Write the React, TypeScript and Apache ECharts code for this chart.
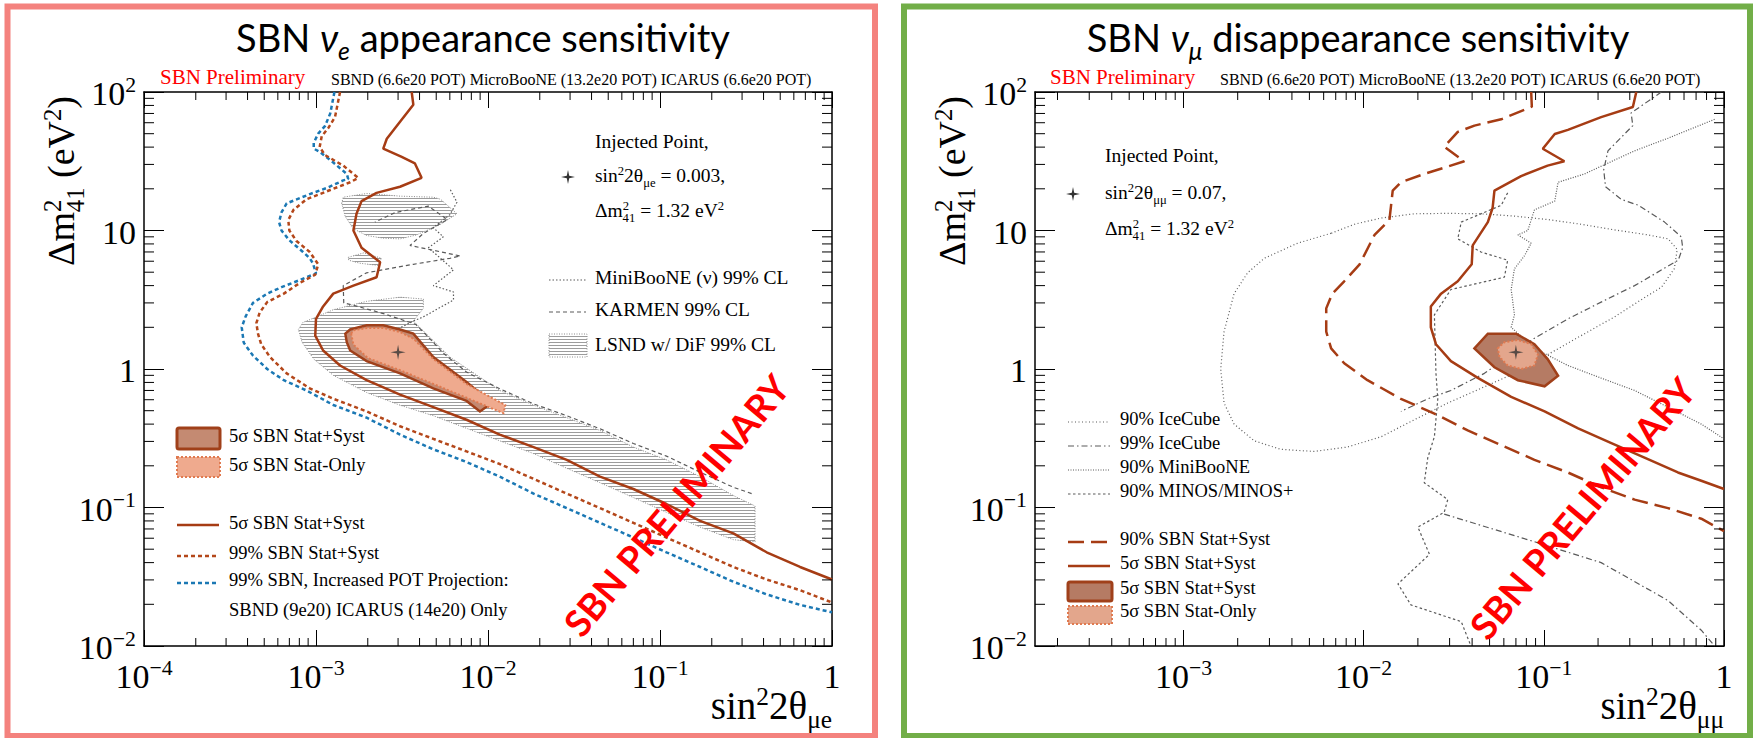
import React, { useEffect, useRef } from 'react';
import * as echarts from 'echarts';

// ================= LEFT PANEL: nu_e appearance =================
const injectedE: number[][] = [[0.003, 1.32]];

const proj99E: number[][] = [[1.28e-3,100],[1.21e-3,70],[1.13e-3,57],[1.03e-3,50],[9.7e-4,43],[9.7e-4,39],[1.05e-3,37],[1.26e-3,31],[1.51e-3,25.6],[1.54e-3,23.5],[1.44e-3,23],[1.18e-3,20.5],[9.2e-4,18.3],[6.75e-4,15.7],[6.3e-4,13.5],[6.1e-4,11.5],[6.3e-4,10],[7.0e-4,8.5],[8.4e-4,7.0],[9.2e-4,6.3],[9.6e-4,5.8],[1.0e-3,4.9],[8.1e-4,4.4],[6.3e-4,3.9],[5.2e-4,3.5],[4.3e-4,3.0],[3.9e-4,2.4],[3.7e-4,2.0],[3.8e-4,1.55],[4.3e-4,1.25],[5.2e-4,1.0],[6.5e-4,0.83],[8.8e-4,0.7],[1.26e-3,0.55],[1.97e-3,0.445],[3.08e-3,0.336],[4.81e-3,0.263],[7.5e-3,0.213],[0.0117,0.167],[0.0184,0.126],[0.0287,0.099],[0.0448,0.0775],[0.07,0.0607],[0.109,0.0475],[0.171,0.0372],[0.267,0.0291],[0.417,0.0236],[0.652,0.0198],[1,0.0175]];

const sbn99E: number[][] = [[1.38e-3,100],[1.29e-3,66],[1.18e-3,55],[1.08e-3,48],[1.05e-3,40],[1.13e-3,35],[1.44e-3,29.4],[1.76e-3,24],[1.58e-3,22.3],[1.26e-3,20],[8.8e-4,16.8],[7.4e-4,14.1],[6.9e-4,11.9],[7.0e-4,10],[7.7e-4,8.4],[9.2e-4,7.0],[1.03e-3,5.7],[9.9e-4,4.8],[8.1e-4,4.2],[6.5e-4,3.5],[5.2e-4,3.04],[4.7e-4,2.55],[4.5e-4,2.14],[4.6e-4,1.8],[4.8e-4,1.51],[5.4e-4,1.22],[6.75e-4,0.93],[9.2e-4,0.725],[1.26e-3,0.61],[1.97e-3,0.494],[3.08e-3,0.386],[4.81e-3,0.313],[7.5e-3,0.254],[0.0117,0.206],[0.0184,0.161],[0.0287,0.126],[0.0448,0.099],[0.07,0.0775],[0.109,0.0607],[0.171,0.0475],[0.267,0.0372],[0.417,0.0302],[0.652,0.0253],[1,0.0206]];

const sbn5sigE: number[][] = [[3.6e-3,100],[3.68e-3,81],[3.08e-3,61],[2.58e-3,46],[2.46e-3,39],[3.15e-3,34],[3.76e-3,30.5],[4.11e-3,24],[3.08e-3,20.7],[2.25e-3,18.7],[1.84e-3,16.3],[1.72e-3,13.2],[1.65e-3,10],[1.84e-3,7.5],[2.36e-3,5.9],[2.25e-3,4.6],[1.65e-3,4.0],[1.26e-3,3.5],[1.1e-3,2.83],[1.0e-3,2.3],[9.9e-4,1.74],[1.1e-3,1.36],[1.38e-3,1.06],[1.97e-3,0.83],[3.08e-3,0.653],[4.81e-3,0.53],[7.5e-3,0.43],[0.0117,0.336],[0.0184,0.273],[0.0287,0.221],[0.0448,0.167],[0.07,0.136],[0.109,0.106],[0.171,0.08],[0.267,0.065],[0.417,0.0475],[0.652,0.0372],[1,0.0302]];

const blobSystE: number[][] = [[1.48e-3,1.8],[1.51e-3,1.56],[1.58e-3,1.36],[1.97e-3,1.14],[3.08e-3,0.93],[4.81e-3,0.725],[7.5e-3,0.588],[8.98e-3,0.494],[0.0105,0.568],[7.5e-3,0.805],[4.81e-3,1.22],[3.68e-3,1.8],[3.08e-3,1.93],[2.46e-3,2.07],[1.97e-3,2.07],[1.58e-3,1.93]];

const blobStatE: number[][] = [[1.6e-3,1.8],[1.65e-3,1.5],[2.0e-3,1.2],[3.08e-3,0.98],[4.81e-3,0.78],[7.5e-3,0.62],[0.0105,0.52],[0.0123,0.48],[0.0126,0.55],[0.0105,0.62],[7.5e-3,0.78],[4.81e-3,1.18],[3.7e-3,1.65],[3.08e-3,1.85],[2.46e-3,1.98],[1.97e-3,1.98],[1.65e-3,1.9]];

const lsndBand: number[][] = [[7.9e-4,1.93],[8.4e-4,2.17],[1.01e-3,2.38],[1.26e-3,2.68],[1.97e-3,3.08],[3.08e-3,3.3],[4.21e-3,3.2],[4.21e-3,2.74],[3.68e-3,2.22],[6.0e-3,1.22],[0.0117,0.70],[0.0184,0.548],[0.0287,0.445],[0.0448,0.36],[0.07,0.273],[0.109,0.221],[0.171,0.167],[0.267,0.122],[0.357,0.1025],[0.357,0.0566],[0.267,0.0586],[0.171,0.0722],[0.109,0.0923],[0.07,0.118],[0.0448,0.151],[0.0287,0.192],[0.0184,0.245],[0.0117,0.303],[7.5e-3,0.373],[4.81e-3,0.46],[3.08e-3,0.548],[1.97e-3,0.676],[1.26e-3,0.9],[9.7e-4,1.18],[8.3e-4,1.56]];

const lsndUpper: number[][] = [[1.41e-3,15.7],[1.44e-3,17.4],[1.97e-3,18.5],[3.08e-3,17.7],[4.81e-3,17.4],[5.3e-3,16.8],[6.6e-3,13.2],[5.3e-3,11.1],[3.85e-3,9.3],[3.08e-3,8.7],[2.46e-3,8.8],[1.97e-3,9.2],[1.65e-3,10.3],[1.48e-3,12.6]];

const lsndSmall: number[][] = [[1.54e-3,6.4],[1.9e-3,6.9],[2.4e-3,6.3],[2.3e-3,5.6],[1.8e-3,5.8],[1.55e-3,6.1]];

const karmenE: number[][] = [[0.341,0.126],[0.267,0.14],[0.171,0.18],[0.109,0.235],[0.07,0.29],[0.0448,0.37],[0.0287,0.46],[0.0184,0.56],[0.0117,0.72],[7.5e-3,0.95],[5.5e-3,1.3],[4.5e-3,1.7],[3.8e-3,2.1],[2.5e-3,2.5],[1.8e-3,2.8],[1.45e-3,3.0],[1.44e-3,4.0],[1.97e-3,4.95],[3.68e-3,5.7],[6.0e-3,6.3],[6.9e-3,6.55],[3.52e-3,7.8],[4.2e-3,9.5],[5.8e-3,12],[4.5e-3,15],[2.9e-3,13.5],[2.2e-3,11.5]];

const minibooneE: number[][] = [[3.0e-3,1.95],[3.68e-3,2.22],[4.21e-3,2.38],[6.3e-3,3.15],[6.3e-3,3.6],[4.81e-3,4.0],[6.3e-3,5.2],[5.3e-3,6.3],[4.5e-3,7.5],[5.5e-3,9.0],[4.8e-3,10.5],[6.0e-3,13],[6.6e-3,16],[6.0e-3,20]];

// ================= RIGHT PANEL: nu_mu disappearance =================
const injectedMu: number[][] = [[0.07, 1.32]];

const sbn90Mu: number[][] = [[0.0851,100],[0.0858,78.3],[0.058,63.5],[0.0412,57.2],[0.0333,51.5],[0.028,40.3],[0.0362,31.6],[0.028,28.4],[0.0217,25.6],[0.0161,22.3],[0.0145,19.4],[0.0142,15.2],[0.0139,11.9],[0.0115,9.3],[9.5e-3,5.7],[7.8e-3,4.3],[6.7e-3,3.5],[6.2e-3,2.74],[6.2e-3,1.86],[6.6e-3,1.41],[7.8e-3,1.1],[0.0105,0.83],[0.0161,0.609],[0.0247,0.477],[0.0378,0.36],[0.058,0.282],[0.0887,0.221],[0.136,0.179],[0.208,0.14],[0.319,0.114],[0.489,0.099],[0.748,0.083],[1,0.0675]];

const sbn5sigMu: number[][] = [[0.326,100],[0.312,78],[0.208,65.8],[0.136,53.3],[0.115,49.8],[0.0987,38.9],[0.13,31.6],[0.105,29.4],[0.0748,24.7],[0.0532,19.4],[0.052,14.6],[0.0489,11.5],[0.0403,7.8],[0.0398,5.7],[0.0333,4.3],[0.0269,3.5],[0.0236,2.83],[0.0236,2.0],[0.0252,1.51],[0.0305,1.14],[0.043,0.863],[0.0659,0.63],[0.101,0.494],[0.155,0.373],[0.237,0.292],[0.362,0.229],[0.555,0.179],[0.748,0.156],[1,0.136]];

const blobSystMu: number[][] = [[0.0412,1.41],[0.0489,1.8],[0.0702,1.8],[0.0887,1.51],[0.105,1.18],[0.12,0.893],[0.101,0.75],[0.0718,0.83],[0.0532,1.03]];

const blobStatMu: number[][] = [[0.0555,1.41],[0.0604,1.56],[0.0718,1.62],[0.0851,1.51],[0.0927,1.27],[0.0887,1.06],[0.0748,1.0],[0.063,1.06],[0.0568,1.22]];

const icecube90: number[][] = [[6.6e-3,9.55],[4.3e-3,8.1],[2.81e-3,6.3],[2.27e-3,4.95],[1.91e-3,3.5],[1.68e-3,1.86],[1.61e-3,1.0],[1.68e-3,0.568],[1.91e-3,0.40],[2.47e-3,0.303],[3.47e-3,0.263],[5.3e-3,0.254],[8.1e-3,0.273],[0.0125,0.324],[0.0191,0.43],[0.0293,0.568],[0.0448,0.725],[0.0687,0.93],[0.105,1.27],[0.161,1.74],[0.247,2.38],[0.36,3.26],[0.45,3.9],[0.53,5.3],[0.55,7.3],[0.49,8.7],[0.378,9.3],[0.247,10.1],[0.161,11.1],[0.105,12.0],[0.0687,12.7],[0.0448,13.2],[0.0293,13.3],[0.0191,13.2],[0.0125,12.3],[8.9e-3,11.1],[6.6e-3,9.55]];

const icecube99: number[][] = [[0.449,100],[0.305,70.5],[0.312,57.2],[0.227,37.6],[0.215,27.5],[0.22,20.7],[0.269,16.8],[0.335,15.2],[0.468,11.5],[0.579,9.0],[0.59,7.5],[0.557,6.1],[0.319,4.0],[0.208,3.04],[0.136,2.3],[0.0887,1.67],[0.0687,1.31],[0.0468,0.93],[0.0305,0.70],[0.0227,0.609],[0.0161,0.494]];

const icecube99b: number[][] = [[0.028,0.0896],[0.0887,0.0566],[0.208,0.040],[0.489,0.0213],[0.748,0.013],[0.887,0.01]];

const minibooneMu: number[][] = [[0.887,63.5],[0.489,46.4],[0.319,37.6],[0.168,25.6],[0.12,22.3],[0.115,16.3],[0.0887,14.1],[0.0815,10],[0.0718,9.3],[0.0851,8.1],[0.078,6.55],[0.0687,5.3],[0.0659,3.75],[0.0687,2.46],[0.0659,2.0],[0.0887,1.41],[0.136,1.06],[0.208,0.86],[0.319,0.70],[0.489,0.53],[0.748,0.40],[1,0.313]];

const minosMu: number[][] = [[0.063,18.7],[0.058,15.2],[0.0348,11.5],[0.0333,8.7],[0.0448,7.0],[0.063,6.1],[0.0604,4.6],[0.0305,3.75],[0.0247,2.46],[0.0252,0.93],[0.0258,0.609],[0.0247,0.324],[0.0227,0.229],[0.0217,0.151],[0.0293,0.114],[0.028,0.0923],[0.02,0.0722],[0.0232,0.0459],[0.0155,0.0281],[0.0183,0.0198],[0.0348,0.015],[0.0394,0.01]];

// ================= axes =================
const xRangeE = [1e-4, 1];
const xRangeMu = [1.5e-4, 1];
const yRange = [1e-2, 100];
const minorMult = [2, 3, 4, 5, 6, 7, 8, 9];
const decadesX = [1e-4, 1e-3, 1e-2, 1e-1];
const decadesY = [1e-2, 1e-1, 1, 10];

const SERIF = "'Liberation Serif', 'Times New Roman', serif";
const SANS = "Lato, 'Open Sans', sans-serif";

const C_SOLID = '#A63C14';
const C_RDOT = '#B4471A';
const C_BLUE = '#1B78B4';
const C_GRAY = '#5a5a5a';
const C_SYST = '#C48A72';
const C_SYST_B = '#A0401A';
const C_STAT = '#EFAA8E';
const C_STAT_B = '#E07A50';
const STAR = 'path://M0,-10L1.6,-1.6L10,0L1.6,1.6L0,10L-1.6,1.6L-10,0L-1.6,-1.6Z';

function rs(f: number, p: number, family = SERIF, color = '#000') {
  const b: any = { fontFamily: family, color, fill: color, verticalAlign: 'top' };
  const s = f * 0.65;
  return {
    n: { ...b, fontSize: f, lineHeight: f * 1.2, padding: [p, 0, 0, 0] },
    i: { ...b, fontSize: f, lineHeight: f * 1.2, padding: [p, 0, 0, 0], fontStyle: 'italic' },
    sp: { ...b, fontSize: s, lineHeight: s * 1.2, padding: [Math.max(0, p - 0.06 * f), 0, 0, 0] },
    sb: { ...b, fontSize: s, lineHeight: s * 1.2, padding: [p + 0.54 * f, 0, 0, 0] },
    sbi: { ...b, fontSize: s, lineHeight: s * 1.2, padding: [p + 0.54 * f, 0, 0, 0], fontStyle: 'italic' },
    sbk: { ...b, fontSize: s, lineHeight: s * 1.2, padding: [p + 0.54 * f, 0, 0, -0.33 * f] },
  };
}

// text with baseline at B
function txt(x: number, B: number, text: string, f: number, opts: any = {}) {
  const family = opts.family || SERIF;
  const color = opts.color || '#000';
  const p = 0.35 * f;
  return {
    type: 'text', x, y: B - 1.28 * f, silent: true, z: opts.z || 50,
    style: { text, rich: rs(f, p, family, color), align: opts.align || 'left', verticalAlign: 'top', fill: color, fontSize: f, fontFamily: family },
  };
}

function expLabel(v: number) {
  const e = Math.round(Math.log10(v));
  if (e === 0) return '{b|1}';
  if (e === 1) return '{b|10}';
  return '{b|10}{s|' + (e < 0 ? '\u2212' + -e : String(e)) + '}';
}

function labelRich(f: number, p: number) {
  return {
    b: { fontFamily: SERIF, fontSize: f, lineHeight: f * 1.2, color: '#000', verticalAlign: 'top', padding: [p, 0, 0, 0] },
    s: { fontFamily: SERIF, fontSize: f * 0.64, lineHeight: f * 0.64 * 1.2, color: '#000', verticalAlign: 'top', padding: [Math.max(0, p - 0.08 * f), 0, 0, 0] },
  };
}

function xAx(gi: number, range: number[], pos: string, showLabel: boolean) {
  return {
    type: 'log', logBase: 10, gridIndex: gi, min: range[0], max: range[1], position: pos,
    axisLine: { show: true, onZero: false, lineStyle: { color: '#000', width: 1.5 } },
    axisTick: { show: true, inside: true, length: 16, lineStyle: { color: '#000', width: 1 } },
    axisLabel: showLabel
      ? { show: true, margin: 2, formatter: expLabel, rich: labelRich(34, 0.35 * 34), showMinLabel: range[0] === 1e-4 }
      : { show: false },
    splitLine: { show: false },
  };
}

function yAx(gi: number, pos: string, showLabel: boolean) {
  return {
    type: 'log', logBase: 10, gridIndex: gi, min: yRange[0], max: yRange[1], position: pos,
    axisLine: { show: true, onZero: false, lineStyle: { color: '#000', width: 1.5 } },
    axisTick: { show: true, inside: true, length: 20, lineStyle: { color: '#000', width: 1 } },
    axisLabel: showLabel
      ? { show: true, margin: 8, formatter: expLabel, rich: labelRich(34, 0.15 * 34) }
      : { show: false },
    splitLine: { show: false },
  };
}

function minorTicks(xi: number, yi: number, xr: number[]) {
  const data: number[][] = [];
  decadesX.forEach((d) => minorMult.forEach((m) => { const v = m * d; if (v > xr[0] && v < xr[1]) data.push([v, 1, 0]); }));
  decadesY.forEach((d) => minorMult.forEach((m) => data.push([0.01, m * d, 1])));
  return {
    type: 'custom', xAxisIndex: xi, yAxisIndex: yi, data, silent: true, z: 20,
    encode: { x: 0, y: 1 },
    renderItem: (params: any, api: any) => {
      const cs = params.coordSys;
      const kind = api.value(2);
      const st = { stroke: '#000', lineWidth: 1 };
      if (kind === 0) {
        const px = api.coord([api.value(0), 1])[0];
        return { type: 'group', children: [
          { type: 'line', shape: { x1: px, y1: cs.y + cs.height, x2: px, y2: cs.y + cs.height - 8 }, style: st },
          { type: 'line', shape: { x1: px, y1: cs.y, x2: px, y2: cs.y + 8 }, style: st },
        ] };
      }
      const py = api.coord([0.01, api.value(1)])[1];
      return { type: 'group', children: [
        { type: 'line', shape: { x1: cs.x, y1: py, x2: cs.x + 10, y2: py }, style: st },
        { type: 'line', shape: { x1: cs.x + cs.width, y1: py, x2: cs.x + cs.width - 10, y2: py }, style: st },
      ] };
    },
  };
}

function lineS(data: number[][], xi: number, yi: number, color: string, width: number, type: any, z = 5) {
  return { type: 'line', xAxisIndex: xi, yAxisIndex: yi, data, showSymbol: false, symbol: 'none', silent: true, z,
    lineStyle: { color, width, type, cap: 'butt' } };
}

function polyS(pts: number[][], xi: number, yi: number, style: any, z = 3) {
  return {
    type: 'custom', xAxisIndex: xi, yAxisIndex: yi, data: pts, silent: true, z, clip: true,
    encode: { x: 0, y: 1 },
    renderItem: (params: any, api: any) => {
      if (params.dataIndex !== 0) return null;
      return { type: 'polygon', shape: { points: pts.map((p) => api.coord(p)) }, style };
    },
  };
}

function makeHatch() {
  const c = document.createElement('canvas');
  c.width = 6; c.height = 3;
  const ctx = c.getContext('2d')!;
  ctx.clearRect(0, 0, 6, 3);
  ctx.fillStyle = 'rgba(90,90,90,0.6)';
  ctx.fillRect(0, 0, 6, 1);
  return { image: c, repeat: 'repeat', imageWidth: 6, imageHeight: 3 };
}

function buildOption(hatch: any) {
  const hatchStyle = { fill: hatch, stroke: '#8a8a8a', lineWidth: 1, lineDash: [1, 1.5] };
  const series: any[] = [
    // left panel
    polyS(lsndBand, 0, 0, hatchStyle, 2),
    polyS(lsndUpper, 0, 0, hatchStyle, 2),
    polyS(lsndSmall, 0, 0, hatchStyle, 2),
    lineS(karmenE, 0, 0, C_GRAY, 1.2, [4, 3], 4),
    lineS(minibooneE, 0, 0, C_GRAY, 1.2, [1.5, 2], 4),
    polyS(blobSystE, 0, 0, { fill: C_SYST, stroke: C_SYST_B, lineWidth: 2.5 }, 6),
    polyS(blobStatE, 0, 0, { fill: C_STAT, stroke: C_STAT_B, lineWidth: 2, lineDash: [2, 2] }, 7),
    lineS(proj99E, 0, 0, C_BLUE, 2.5, [4, 3], 8),
    lineS(sbn99E, 0, 0, C_RDOT, 2.5, [4, 3], 8),
    lineS(sbn5sigE, 0, 0, C_SOLID, 2.5, 'solid', 9),
    { type: 'scatter', xAxisIndex: 0, yAxisIndex: 0, data: injectedE, symbol: STAR, symbolSize: 15, itemStyle: { color: '#333' }, z: 12, silent: true },
    minorTicks(0, 0, xRangeE),
    // right panel
    lineS(icecube90, 2, 2, C_GRAY, 1.2, [1, 2.5], 4),
    lineS(icecube99, 2, 2, C_GRAY, 1.2, [6, 3, 1.5, 3], 4),
    lineS(icecube99b, 2, 2, C_GRAY, 1.2, [6, 3, 1.5, 3], 4),
    lineS(minibooneMu, 2, 2, C_GRAY, 1.2, [1, 1.5], 4),
    lineS(minosMu, 2, 2, C_GRAY, 1.2, [2.5, 2.5], 4),
    polyS(blobSystMu, 2, 2, { fill: '#B57B64', stroke: C_SYST_B, lineWidth: 2.5 }, 6),
    polyS(blobStatMu, 2, 2, { fill: '#E3A68C', stroke: C_STAT_B, lineWidth: 2, lineDash: [2, 2] }, 7),
    lineS(sbn90Mu, 2, 2, C_SOLID, 2.5, [16, 7], 8),
    lineS(sbn5sigMu, 2, 2, C_SOLID, 2.5, 'solid', 9),
    { type: 'scatter', xAxisIndex: 2, yAxisIndex: 2, data: injectedMu, symbol: STAR, symbolSize: 15, itemStyle: { color: '#333' }, z: 12, silent: true },
    minorTicks(2, 2, xRangeMu),
  ];

  const starPts = (cx: number, cy: number) => [[cx, cy - 7], [cx + 1.2, cy - 1.2], [cx + 7, cy], [cx + 1.2, cy + 1.2], [cx, cy + 7], [cx - 1.2, cy + 1.2], [cx - 7, cy], [cx - 1.2, cy - 1.2]];
  const lg = (x1: number, x2: number, y: number, stroke: string, w: number, dash: any) =>
    ({ type: 'line', shape: { x1, y1: y, x2, y2: y }, style: { stroke, lineWidth: w, lineDash: dash }, silent: true, z: 50 });

  const F = 18.5;
  const FA = 19.5;
  const graphic: any[] = [
    { type: 'rect', shape: { x: 7.5, y: 6.5, width: 867.5, height: 729.5 }, style: { fill: 'none', stroke: '#F4827E', lineWidth: 6 }, silent: true, z: 1 },
    { type: 'rect', shape: { x: 904, y: 6.5, width: 846, height: 729.5 }, style: { fill: 'none', stroke: '#72AE48', lineWidth: 6 }, silent: true, z: 1 },
    // titles
    txt(483, 53, '{n|SBN }{i|\u03BD}{sbi|e}{n| appearance sensitivity}', 38, { family: SANS, align: 'center' }),
    txt(1358, 53, '{n|SBN }{i|\u03BD}{sbi|\u03BC}{n| disappearance sensitivity}', 38, { family: SANS, align: 'center' }),
    // headers
    txt(160, 86, '{n|SBN Preliminary}', 21, { color: '#FF0000' }),
    txt(331, 86, '{n|SBND (6.6e20 POT) MicroBooNE (13.2e20 POT) ICARUS (6.6e20 POT)}', 16),
    txt(1050, 86, '{n|SBN Preliminary}', 21, { color: '#FF0000' }),
    txt(1220, 86, '{n|SBND (6.6e20 POT) MicroBooNE (13.2e20 POT) ICARUS (6.6e20 POT)}', 16),
    // axis titles
    { ...txt(0, 0, '{n|\u0394m}{sp|2}{sbk|41}{n| (eV}{sp|2}{n|)}', 38, { align: 'right' }), x: 29, y: 96, rotation: Math.PI / 2 },
    { ...txt(0, 0, '{n|\u0394m}{sp|2}{sbk|41}{n| (eV}{sp|2}{n|)}', 38, { align: 'right' }), x: 920, y: 96, rotation: Math.PI / 2 },
    txt(832, 722, '{n|sin}{sp|2}{n|2\u03B8}{sb|\u03BCe}', 39, { align: 'right' }),
    txt(1724, 722, '{n|sin}{sp|2}{n|2\u03B8}{sb|\u03BC\u03BC}', 39, { align: 'right' }),
    // left annotations
    txt(595, 150, '{n|Injected Point,}', FA),
    { type: 'polygon', shape: { points: starPts(568, 177) }, style: { fill: '#333' }, silent: true, z: 50 },
    txt(595, 184, '{n|sin}{sp|2}{n|2\u03B8}{sb|\u03BCe}{n| = 0.003,}', FA),
    txt(595, 219, '{n|\u0394m}{sp|2}{sbk|41}{n| = 1.32 eV}{sp|2}', FA),
    lg(549, 586, 280, C_GRAY, 1.2, [1.5, 2]),
    txt(595, 286, '{n|MiniBooNE (\u03BD) 99% CL}', FA),
    lg(549, 586, 312, C_GRAY, 1.2, [4, 3]),
    txt(595, 318, '{n|KARMEN 99% CL}', FA),
    { type: 'rect', shape: { x: 549, y: 334, width: 38, height: 23 }, style: hatchStyle, silent: true, z: 50 },
    txt(595, 353, '{n|LSND w/ DiF 99% CL}', FA),
    // left legend
    { type: 'rect', shape: { x: 177, y: 428, width: 43, height: 21, r: 2 }, style: { fill: C_SYST, stroke: C_SYST_B, lineWidth: 3 }, silent: true, z: 50 },
    txt(229, 444, '{n|5\u03C3 SBN Stat+Syst}', F),
    { type: 'rect', shape: { x: 177, y: 457, width: 43, height: 20 }, style: { fill: C_STAT, stroke: C_STAT_B, lineWidth: 2, lineDash: [2, 2] }, silent: true, z: 50 },
    txt(229, 473, '{n|5\u03C3 SBN Stat-Only}', F),
    lg(177, 219, 525, C_SOLID, 2.5, null),
    txt(229, 531, '{n|5\u03C3 SBN Stat+Syst}', F),
    lg(177, 219, 556, C_RDOT, 2.5, [4, 3]),
    txt(229, 561, '{n|99% SBN Stat+Syst}', F),
    lg(177, 219, 583, C_BLUE, 2.5, [4, 3]),
    txt(229, 588, '{n|99% SBN, Increased POT Projection:}', F),
    txt(229, 618, '{n|SBND (9e20) ICARUS (14e20) Only}', F),
    // right annotations
    txt(1105, 164, '{n|Injected Point,}', FA),
    { type: 'polygon', shape: { points: starPts(1073, 194) }, style: { fill: '#333' }, silent: true, z: 50 },
    txt(1105, 201, '{n|sin}{sp|2}{n|2\u03B8}{sb|\u03BC\u03BC}{n| = 0.07,}', FA),
    txt(1105, 237, '{n|\u0394m}{sp|2}{sbk|41}{n| = 1.32 eV}{sp|2}', FA),
    lg(1068, 1110, 422, C_GRAY, 1.2, [1, 2.5]),
    txt(1120, 427, '{n|90% IceCube}', F),
    lg(1068, 1110, 446, C_GRAY, 1.2, [6, 3, 1.5, 3]),
    txt(1120, 451, '{n|99% IceCube}', F),
    lg(1068, 1110, 470, C_GRAY, 1.2, [1, 1.5]),
    txt(1120, 475, '{n|90% MiniBooNE}', F),
    lg(1068, 1110, 494, C_GRAY, 1.2, [2.5, 2.5]),
    txt(1120, 499, '{n|90% MINOS/MINOS+}', F),
    lg(1068, 1110, 542, C_SOLID, 2.5, [16, 7]),
    txt(1120, 547, '{n|90% SBN Stat+Syst}', F),
    lg(1068, 1110, 566, C_SOLID, 2.5, null),
    txt(1120, 571, '{n|5\u03C3 SBN Stat+Syst}', F),
    { type: 'rect', shape: { x: 1068, y: 582, width: 44, height: 19, r: 2 }, style: { fill: '#B57B64', stroke: C_SYST_B, lineWidth: 3 }, silent: true, z: 50 },
    txt(1120, 596, '{n|5\u03C3 SBN Stat+Syst}', F),
    { type: 'rect', shape: { x: 1068, y: 606, width: 44, height: 18 }, style: { fill: '#E3A68C', stroke: C_STAT_B, lineWidth: 2, lineDash: [2, 2] }, silent: true, z: 50 },
    txt(1120, 619, '{n|5\u03C3 SBN Stat-Only}', F),
    // watermarks
    { type: 'text', x: 676, y: 505, rotation: (50 * Math.PI) / 180, silent: true, z: 100,
      style: { text: 'SBN PRELIMINARY', fontFamily: SANS, fontWeight: 'bold', fontSize: 37, fill: '#FF0000', align: 'center', verticalAlign: 'middle' } },
    { type: 'text', x: 1582, y: 508, rotation: (50 * Math.PI) / 180, silent: true, z: 100,
      style: { text: 'SBN PRELIMINARY', fontFamily: SANS, fontWeight: 'bold', fontSize: 37, fill: '#FF0000', align: 'center', verticalAlign: 'middle' } },
  ];

  return {
    animation: false,
    backgroundColor: '#fff',
    grid: [
      { left: 144, top: 92, width: 688, height: 554, containLabel: false },
      { left: 1035, top: 92, width: 689, height: 554, containLabel: false },
    ],
    xAxis: [xAx(0, xRangeE, 'bottom', true), xAx(0, xRangeE, 'top', false), xAx(1, xRangeMu, 'bottom', true), xAx(1, xRangeMu, 'top', false)],
    yAxis: [yAx(0, 'left', true), yAx(0, 'right', false), yAx(1, 'left', true), yAx(1, 'right', false)],
    series,
    graphic,
  };
}

export default function App() {
  const ref = useRef<HTMLDivElement>(null);
  useEffect(() => {
    document.body.style.margin = '0';
    const chart = echarts.init(ref.current!, null, { renderer: 'svg' });
    chart.setOption(buildOption(makeHatch()) as any);
    return () => chart.dispose();
  }, []);
  return <div ref={ref} style={{ width: 1753, height: 738, background: '#fff' }} />;
}
